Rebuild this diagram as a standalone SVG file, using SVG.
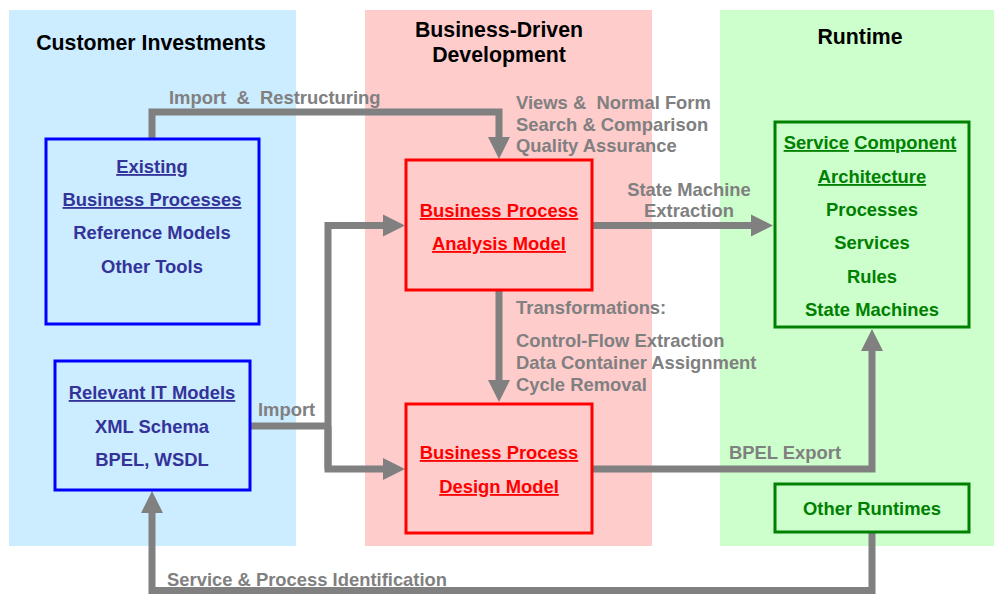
<svg xmlns="http://www.w3.org/2000/svg" width="994" height="595" viewBox="0 0 994 595">
  <style>
    text { font-family: "Liberation Sans", Arial, sans-serif; font-weight: bold; }
    .head { font-size: 21.3px; fill: #000; text-anchor: middle; }
    .lbl { font-size: 18.4px; fill: #808080; }
    .bt { font-size: 18.4px; fill: #333399; text-anchor: middle; }
    .rt { font-size: 18.4px; fill: #FF0000; text-anchor: middle; text-decoration: underline; }
    .gt { font-size: 18.4px; fill: #008000; text-anchor: middle; }
    .u { text-decoration: underline; }
    .bluebox { fill: none; stroke: #0000FF; stroke-width: 3; }
    .redbox { fill: none; stroke: #FF0000; stroke-width: 3; }
    .greenbox { fill: none; stroke: #008000; stroke-width: 3; }
    .conn { fill: none; stroke: #808080; stroke-width: 7; stroke-linejoin: miter; marker-end: url(#arrow); }
    .seg { fill: none; stroke: #808080; stroke-width: 7; stroke-linejoin: miter; }
  </style>
  <defs>
    <marker id="arrow" markerUnits="userSpaceOnUse" markerWidth="23" markerHeight="23" refX="0" refY="11" orient="auto" overflow="visible">
      <path d="M0,0 L22,11 L0,22 Z" fill="#808080"/>
    </marker>
  </defs>

  <!-- swimlane backgrounds -->
  <g id="lanes">
    <rect x="9" y="10" width="287" height="536" fill="#CCECFF"/>
    <rect x="365" y="10" width="287" height="536" fill="#FFCCCC"/>
    <rect x="720" y="10" width="274" height="536" fill="#CCFFCC"/>
    <text class="head" x="151" y="50">Customer Investments</text>
    <text class="head" x="499" y="37">Business-Driven</text>
    <text class="head" x="499" y="62">Development</text>
    <text class="head" x="860" y="44">Runtime</text>
  </g>

  <!-- connectors -->
  <g id="connectors">
    <path class="conn" d="M152,139 V112 H499 V137"/>
    <path class="seg" d="M250,426 H328"/>
    <path class="conn" d="M328,469 V225.5 H383"/>
    <path class="conn" d="M328,426 V469 H383"/>
    <path class="conn" d="M499,290 V380"/>
    <path class="conn" d="M592,225.5 H751"/>
    <path class="conn" d="M592,469 H872 V351"/>
    <path class="conn" d="M872,532 V590.5 H152 V513"/>

    <text class="lbl" x="169" y="104" xml:space="preserve">Import  &amp;  Restructuring</text>
    <text class="lbl" x="516" y="109" xml:space="preserve">Views &amp;  Normal Form</text>
    <text class="lbl" x="516" y="131">Search &amp; Comparison</text>
    <text class="lbl" x="516" y="152">Quality Assurance</text>
    <text class="lbl" x="689" y="196" text-anchor="middle">State Machine</text>
    <text class="lbl" x="689" y="217" text-anchor="middle">Extraction</text>
    <text class="lbl" x="516" y="314">Transformations:</text>
    <text class="lbl" x="516" y="347">Control-Flow Extraction</text>
    <text class="lbl" x="516" y="369">Data Container Assignment</text>
    <text class="lbl" x="516" y="391">Cycle Removal</text>
    <text class="lbl" x="258" y="416">Import</text>
    <text class="lbl" x="729" y="459">BPEL Export</text>
    <text class="lbl" x="167" y="586">Service &amp; Process Identification</text>
  </g>

  <g id="existing">
    <rect class="bluebox" x="46" y="139" width="213" height="185"/>
    <text class="bt u" x="152" y="173">Existing</text>
    <text class="bt u" x="152" y="206">Business Processes</text>
    <text class="bt" x="152" y="239">Reference Models</text>
    <text class="bt" x="152" y="273">Other Tools</text>
  </g>

  <g id="it-models">
    <rect class="bluebox" x="55" y="361" width="195" height="129"/>
    <text class="bt u" x="152" y="399">Relevant IT Models</text>
    <text class="bt" x="152" y="433">XML Schema</text>
    <text class="bt" x="152" y="466">BPEL, WSDL</text>
  </g>

  <g id="analysis-model">
    <rect class="redbox" x="406" y="160" width="186" height="130"/>
    <text class="rt" x="499" y="217">Business Process</text>
    <text class="rt" x="499" y="250">Analysis Model</text>
  </g>

  <g id="design-model">
    <rect class="redbox" x="406" y="404" width="186" height="129"/>
    <text class="rt" x="499" y="459">Business Process</text>
    <text class="rt" x="499" y="493">Design Model</text>
  </g>

  <g id="sca">
    <rect class="greenbox" x="775" y="122" width="194" height="205"/>
    <text class="gt" x="870" y="149"><tspan class="u">Service</tspan> <tspan class="u">Component</tspan></text>
    <text class="gt u" x="872" y="183">Architecture</text>
    <text class="gt" x="872" y="216">Processes</text>
    <text class="gt" x="872" y="249">Services</text>
    <text class="gt" x="872" y="283">Rules</text>
    <text class="gt" x="872" y="316">State Machines</text>
  </g>

  <g id="other-runtimes">
    <rect class="greenbox" x="775" y="484" width="194" height="48"/>
    <text class="gt" x="872" y="515">Other Runtimes</text>
  </g>
</svg>
